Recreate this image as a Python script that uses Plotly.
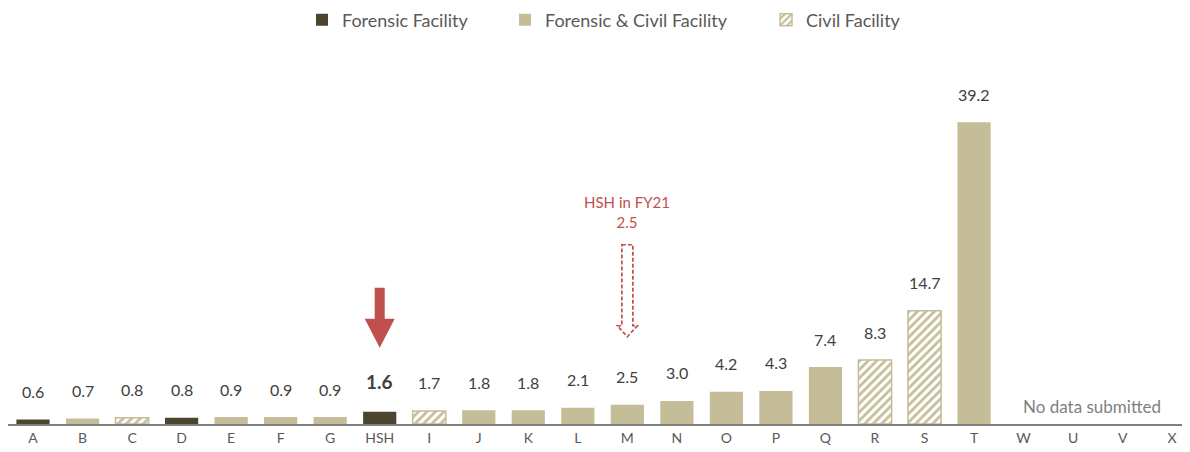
import plotly.graph_objects as go

categories = ["A", "B", "C", "D", "E", "F", "G", "HSH", "I", "J", "K", "L",
              "M", "N", "O", "P", "Q", "R", "S", "T", "W", "U", "V", "X"]
values = [0.6, 0.7, 0.8, 0.8, 0.9, 0.9, 0.9, 1.6, 1.7, 1.8, 1.8, 2.1,
          2.5, 3.0, 4.2, 4.3, 7.4, 8.3, 14.7, 39.2, None, None, None, None]
types = ["F", "FC", "C", "F", "FC", "FC", "FC", "F", "C", "FC", "FC", "FC",
         "FC", "FC", "FC", "FC", "FC", "C", "C", "FC", None, None, None, None]

type_names = {"F": "Forensic Facility", "FC": "Forensic & Civil Facility", "C": "Civil Facility"}
highlight = "HSH"
fy21_value = 2.5
fy21_label = "HSH in FY21"
no_data_label = "No data submitted"

DARK = "#4b4530"
TAN = "#c4bd97"
RED = "#c0504d"
FONT = "Lato, 'Open Sans', sans-serif"

W, H = 1182, 444  # page body adds an 8px offset

fig = go.Figure()
legend_ids = {"F": "legend", "FC": "legend2", "C": "legend3"}
for t in ["F", "FC", "C"]:
    ys = [v if tt == t else None for v, tt in zip(values, types)]
    if t == "F":
        marker = dict(color=DARK, line=dict(width=0))
    elif t == "FC":
        marker = dict(color=TAN, line=dict(width=0))
    else:
        marker = dict(color="white", line=dict(color=TAN, width=1.5),
                      pattern=dict(shape="/", fgcolor=TAN, bgcolor="white",
                                   size=6, solidity=0.45, fillmode="replace"))
    fig.add_trace(go.Bar(x=categories, y=ys, name=type_names[t], marker=marker,
                         width=0.67, hoverinfo="skip", legend=legend_ids[t]))

# value labels
for c, v in zip(categories, values):
    if v is None:
        continue
    bold = c == highlight
    fig.add_annotation(x=c, y=v, text=f"<b>{v:.1f}</b>" if bold else f"{v:.1f}",
                       showarrow=False, yanchor="middle",
                       yshift=30 if bold else 28,
                       font=dict(size=19 if bold else 16, color="#404040", family=FONT))

# solid red arrow above highlighted bar
hv = values[categories.index(highlight)]
fig.add_shape(type="path", xref="x", yref="y", xsizemode="pixel", ysizemode="pixel",
              xanchor=highlight, yanchor=hv,
              path="M -5 124 L 5 124 L 5 93 L 15 93 L 0 64 L -15 93 L -5 93 Z",
              fillcolor=RED, line=dict(width=0))

# dashed arrow above M (HSH FY21)
fig.add_shape(type="path", xref="x", yref="y", xsizemode="pixel", ysizemode="pixel",
              xanchor="M", yanchor=fy21_value,
              path="M -5.5 160 L 5.5 160 L 5.5 79 L 10 79 L 0 68 L -10 79 L -5.5 79 Z",
              fillcolor="rgba(0,0,0,0)", line=dict(color=RED, width=1.7, dash="4px,2px"))
fig.add_annotation(x="M", y=fy21_value, text=f"{fy21_label}<br>{fy21_value:.1f}",
                   showarrow=False, yanchor="middle", yshift=193,
                   font=dict(size=15, color=RED, family=FONT))

fig.add_annotation(x=21.39, y=0, text=no_data_label, showarrow=False,
                   yanchor="middle", yshift=18,
                   font=dict(size=17, color="#7f7f7f", family=FONT))

leg_common = dict(orientation="h", xref="container", yref="container",
                  xanchor="left", yanchor="middle", y=1 - 12 / H,
                  font=dict(size=18, color="#595959", family=FONT),
                  itemclick=False, bgcolor="rgba(0,0,0,0)")
fig.update_layout(
    width=W, height=H,
    margin=dict(l=0, r=0, t=42, b=28),
    plot_bgcolor="white", paper_bgcolor="white",
    barmode="overlay",
    font=dict(family=FONT),
    legend=dict(x=294 / W, **leg_common),
    legend2=dict(x=497 / W, **leg_common),
    legend3=dict(x=758 / W, **leg_common),
    showlegend=True,
)
fig.update_xaxes(type="category", categoryorder="array", categoryarray=categories,
                 range=[-0.505, 23.36], showline=True, linecolor="#808080", linewidth=2,
                 ticks="", showgrid=False, zeroline=False,
                 tickfont=dict(size=14, color="#595959", family=FONT))
fig.update_yaxes(range=[0, 48.57], visible=False, showgrid=False, zeroline=False)

fig.write_html("out.html")
